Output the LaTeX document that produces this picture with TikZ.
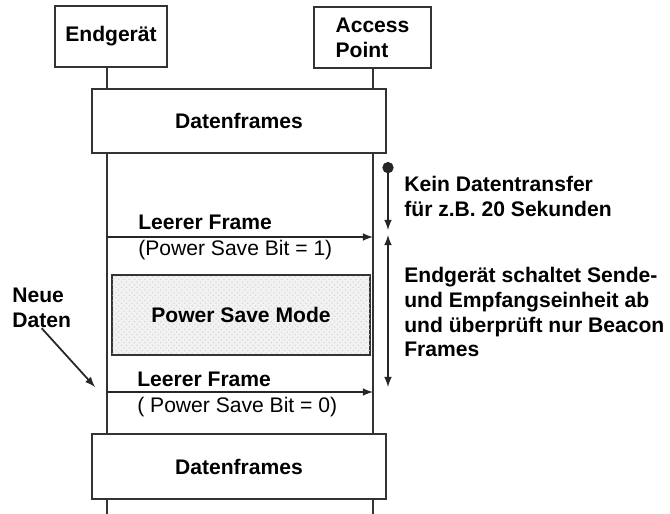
\documentclass[tikz,border=0pt]{standalone}
\usepackage{fontspec}
\setmainfont{Liberation Sans}
\usepackage{tikz}
\usetikzlibrary{arrows}
\usetikzlibrary{positioning, calc, patterns}

\tikzset{
  txt/.style={font=\fontsize{12}{14.2}\selectfont\bfseries},
  box/.style={txt, draw=black!80, line width=1pt, fill=white},
  life/.style={draw=black!80, line width=1pt},
  msg/.style={draw=black!85, line width=1pt, -latex},
  lbl/.style={txt, anchor=west, inner sep=0pt, align=left},
  plain/.style={lbl, font=\fontsize{12}{14.2}\selectfont\mdseries}
}

\begin{document}
\begin{tikzpicture}[x=0.02cm, y=-0.02cm]
      \useasboundingbox (0, 0) rectangle (670, 514);

      % lifelines
      \coordinate (e0) at (107, 0);
      \coordinate (a0) at (373, 0);

      \node[box, minimum width=2.24cm, minimum height=1.22cm] (eg) at (111, 36.5) {Endgerät};
      \node[box, minimum width=2.34cm, minimum height=1.22cm, align=left] (ap) at (372.5, 37.5) {Access\\Point};

      \node[box, minimum width=5.88cm, minimum height=1.28cm] (df1) at (239, 121) {Datenframes};
      \node[box, minimum width=5.16cm, minimum height=1.6cm, fill=black!5,
            postaction={pattern=crosshatch dots, pattern color=black!14}] (psm) at (241, 315) {Power Save Mode};
      \node[box, minimum width=5.88cm, minimum height=1.3cm] (df2) at (239, 466.5) {Datenframes};

      \draw[life] (eg.south -| e0) -- (df1.north -| e0);
      \draw[life] (ap.south -| a0) -- (df1.north -| a0);
      \draw[life] (df1.south -| e0) -- (df2.north -| e0);
      \draw[life] (df1.south -| a0) -- (df2.north -| a0);
      \draw[life] (df2.south -| e0) -- (107, 514);
      \draw[life] (df2.south -| a0) -- (373, 514);

      % messages
      \coordinate (m1) at (107, 237);
      \coordinate (m2) at (107, 392);
      \draw[msg] (m1) -- (m1 -| a0);
      \draw[msg] (m2) -- (m2 -| a0);
      \node[lbl] (lf1) at (138, 222) {Leerer Frame};
      \node[plain] (psb1) at (138, 250) {(Power Save Bit = 1)};
      \node[lbl] (lf2) at (137, 379) {Leerer Frame};
      \node[plain] (psb2) at (137, 407) {( Power Save Bit = 0)};

      \node[lbl] (nd) at (12, 308) {Neue\\Daten};
      \coordinate (ndtip) at (95, 387);
      \draw[msg] (nd.south) -- (ndtip);

      % time spans
      \coordinate (t0) at (388, 162);
      \coordinate (t1) at (388, 230);
      \coordinate (t2) at (388, 235);
      \coordinate (t3) at (388, 387);
      \draw[msg, *-latex] (t0) -- (t1);
      \draw[msg, latex-latex] (t2) -- (t3);
      \node[lbl] (kein) at (404, 196) {Kein Datentransfer\\für z.B. 20 Sekunden};
      \node[lbl] (schalt) at (404, 312) {Endgerät schaltet Sende-\\und Empfangseinheit ab\\und überprüft nur Beacon\\Frames};

    \end{tikzpicture}
\end{document}
